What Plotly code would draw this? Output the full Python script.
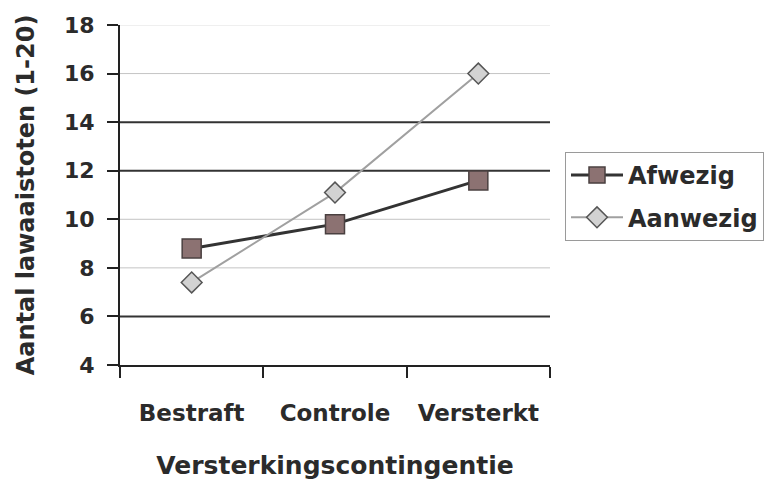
import plotly.graph_objects as go

categories = ["Bestraft", "Controle", "Versterkt"]
afwezig = [8.8, 9.8, 11.6]
aanwezig = [7.4, 11.1, 16.0]
y_ticks = [4, 6, 8, 10, 12, 14, 16, 18]

FONT = "DejaVu Sans"
TXT = "#2b2b2b"

fig = go.Figure()
fig.add_trace(go.Scatter(
    x=categories, y=afwezig, name="Afwezig", mode="lines+markers",
    line=dict(color="#333333", width=3),
    marker=dict(symbol="square", size=19, color="#8c7272",
                line=dict(color="#4a4040", width=1.5)),
    legendgroup="a",
))
fig.add_trace(go.Scatter(
    x=categories, y=aanwezig, name="Aanwezig", mode="lines+markers",
    line=dict(color="#a0a0a0", width=2),
    marker=dict(symbol="diamond", size=16, color="#d2d2d2",
                line=dict(color="#555555", width=1.5)),
    legendgroup="b",
))

# gridlines (scanned look: some dark, some faint)
grid_style = {6: ("#333333", 2), 8: ("#c4c4c4", 1), 10: ("#c4c4c4", 1),
              12: ("#333333", 2), 14: ("#333333", 2), 16: ("#c4c4c4", 1),
              18: ("#e0e0e0", 1)}
shapes = []
for v in y_ticks[1:]:
    c, w = grid_style[v]
    shapes.append(dict(type="line", xref="paper", yref="y", x0=0, x1=1,
                       y0=v, y1=v, line=dict(color=c, width=w), layer="below"))

fig.update_layout(
    width=766, height=481,
    margin=dict(l=120, r=216, t=25, b=116),
    paper_bgcolor="white", plot_bgcolor="white",
    font=dict(family=FONT, color=TXT, size=24, weight="bold"),
    shapes=shapes,
    showlegend=True,
    legend=dict(
        xref="container", yref="container",
        x=0.7376, xanchor="left", y=0.684, yanchor="top",
        bordercolor="#9a9a9a", borderwidth=1, bgcolor="white",
        font=dict(family=FONT, size=24, color=TXT, weight="bold"),
        traceorder="grouped", tracegroupgap=8, itemwidth=52,
    ),
    xaxis=dict(
        type="category", range=[-0.5, 2.5], automargin=False,
        showline=True, linecolor="#222222", linewidth=2,
        ticks="outside", tickson="boundaries", ticklen=11, tickwidth=2,
        tickcolor="#222222", showgrid=False,
        tickfont=dict(family=FONT, size=23, color=TXT, weight="bold"),
        ticklabelstandoff=26,
        title=dict(text="Versterkingscontingentie", standoff=32,
                   font=dict(family=FONT, size=25, color=TXT, weight="bold")),
    ),
    yaxis=dict(
        range=[4, 18], tickvals=y_ticks, automargin=False,
        showline=True, linecolor="#222222", linewidth=2,
        ticks="outside", ticklen=11, tickwidth=2, tickcolor="#222222",
        showgrid=False, zeroline=False,
        tickfont=dict(family=FONT, size=22, color=TXT, weight="bold"),
        ticklabelstandoff=8,
        title=dict(text="Aantal lawaaistoten (1-20)", standoff=23,
                   font=dict(family=FONT, size=24, color=TXT, weight="bold")),
    ),
)

fig.write_html("out.html", config={"displayModeBar": False},
               post_script="document.body.style.margin='0';document.body.style.overflow='hidden';")
